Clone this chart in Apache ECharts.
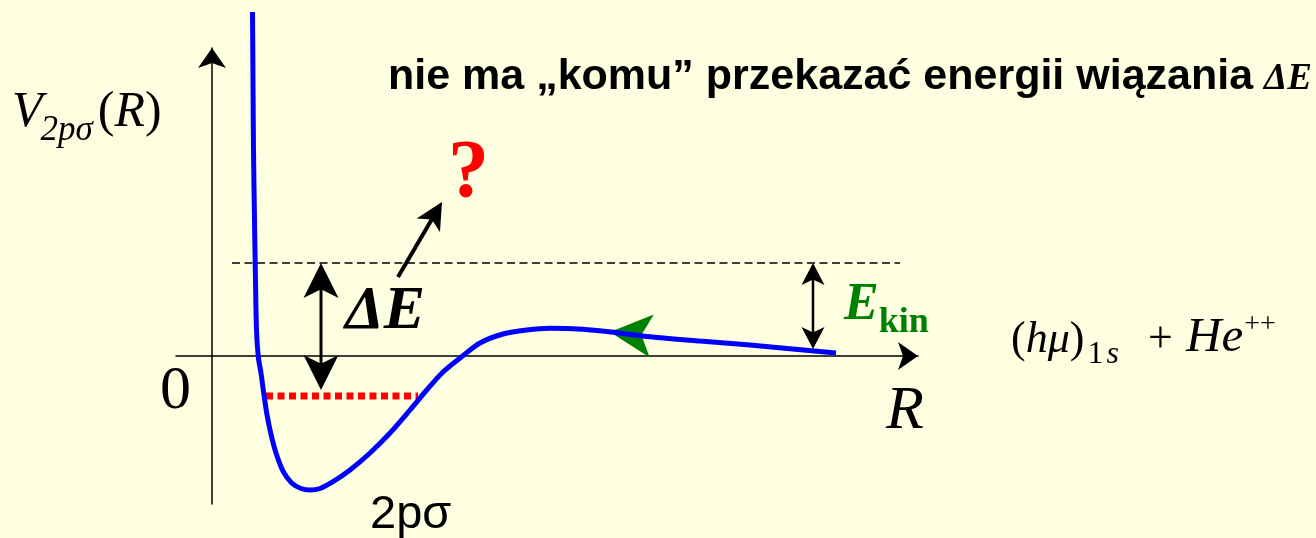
<!DOCTYPE html>
<html>
<head>
<meta charset="utf-8">
<script src="https://cdn.jsdelivr.net/npm/echarts@6/dist/echarts.min.js"></script>
<style>
  html, body { margin: 0; padding: 0; background: #FEFEE1; }
  #chart { width: 1316px; height: 538px; }
</style>
</head>
<body>
<div id="chart"></div>
<script>
// Axis extents (R horizontal, V vertical)
const rRange = [-0.36, 7.06];
const vRange = [-1.48, 3.08];

// 2pσ potential curve V(R)
const potentialCurve = [
  [0.405, 3.44], [0.41, 2.76], [0.415, 2.06], [0.425, 1.36], [0.435, 0.76],
  [0.445, 0.26], [0.463, -0.01], [0.49, -0.17], [0.513, -0.34], [0.547, -0.57],
  [0.587, -0.77], [0.64, -0.97], [0.713, -1.157], [0.797, -1.27], [0.89, -1.325],
  [0.98, -1.34], [1.08, -1.325], [1.21, -1.257], [1.38, -1.14], [1.58, -0.97],
  [1.78, -0.77], [1.98, -0.54], [2.147, -0.34], [2.313, -0.157], [2.497, -0.007],
  [2.68, 0.13], [2.91, 0.22], [3.147, 0.26], [3.38, 0.277], [3.71, 0.267],
  [4.047, 0.233], [4.38, 0.193], [4.88, 0.15], [5.38, 0.11], [6.24, 0.03]
];

// Energy levels
const thresholdLevel = [[0.20, 0.93], [6.88, 0.93]];
const boundLevel = [[0.54, -0.40], [2.06, -0.40]];

// Arrows: [from, to]
const deltaEArrow = [[1.09, 0.93], [1.09, -0.34]];
const ekinArrow = [[6.01, 0.93], [6.01, 0.07]];
const escapeArrow = [[1.86, 0.79], [2.30, 1.54]];
const motionArrow = [[4.40, 0.20], [3.98, 0.24]];
const rAxisTip = [[rRange[1] - 0.5, 0], [rRange[1], 0]];
const vAxisTip = [[0, vRange[1] - 0.5], [0, vRange[1]]];

// Arrow series drawn in data coordinates; heads are concave "stealth" tips
function arrowSeries(name, seg, opt) {
  return {
    type: 'custom',
    name: name,
    coordinateSystem: 'cartesian2d',
    silent: true,
    clip: false,
    z: opt.z || 6,
    data: [[seg[0][0], seg[0][1], seg[1][0], seg[1][1]]],
    renderItem: function (params, api) {
      const a = api.coord([api.value(0), api.value(1)]);
      const b = api.coord([api.value(2), api.value(3)]);
      const dx = b[0] - a[0], dy = b[1] - a[1];
      const len = Math.sqrt(dx * dx + dy * dy);
      const ux = dx / len, uy = dy / len;
      const nx = -uy, ny = ux;
      const W = opt.headW, L = opt.headL;
      function head(tip, dirx, diry) {
        const bx = tip[0] - dirx * L, by = tip[1] - diry * L;
        return {
          type: 'polygon',
          shape: { points: [
            tip,
            [bx + nx * W / 2, by + ny * W / 2],
            [tip[0] - dirx * L * 0.75, tip[1] - diry * L * 0.75],
            [bx - nx * W / 2, by - ny * W / 2]
          ] },
          style: { fill: opt.color }
        };
      }
      const children = [];
      if (opt.width > 0) {
        const s = opt.both ? [a[0] + ux * L * 0.7, a[1] + uy * L * 0.7] : a;
        const e = [b[0] - ux * L * 0.7, b[1] - uy * L * 0.7];
        children.push({
          type: 'line',
          shape: { x1: s[0], y1: s[1], x2: e[0], y2: e[1] },
          style: { stroke: opt.color, lineWidth: opt.width }
        });
      }
      children.push(head(b, ux, uy));
      if (opt.both) children.push(head(a, -ux, -uy));
      return { type: 'group', children: children };
    }
  };
}

// Text runs laid out piece by piece from a common baseline
const measureCtx = document.createElement('canvas').getContext('2d');
function textRun(x, baseline, pieces) {
  const out = [];
  let cx = x;
  pieces.forEach(function (p) {
    const font = (p.style || 'normal') + ' ' + (p.weight || 'normal') + ' ' + p.size + 'px ' + p.family;
    if (p.at != null) cx = p.at;
    cx += p.dx || 0;
    out.push({
      type: 'text',
      x: cx,
      y: baseline + (p.dy || 0) - 0.34 * p.size,
      silent: true,
      z: 20,
      style: {
        text: p.t, font: font, fill: p.color || '#000',
        align: 'left', verticalAlign: 'middle',
        textAlign: 'left', textVerticalAlign: 'middle'
      }
    });
    measureCtx.font = font;
    cx += measureCtx.measureText(p.t).width;
  });
  return out;
}

const SERIF = '"Liberation Serif", "DejaVu Serif", serif';
const SANS = '"Liberation Sans", Arial, sans-serif';
const GREEN = '#008000';

const texts = [].concat(
  textRun(388, 92, [
    { t: 'nie ma „komu” przekazać energii wiązania ', size: 43, weight: 'bold', family: SANS },
    { t: 'ΔE', size: 37, weight: 'bold', style: 'italic', family: SERIF, dx: -1 }
  ]),
  textRun(12, 130, [
    { t: 'V', size: 50, style: 'italic', family: SERIF },
    { t: '2pσ', size: 35, style: 'italic', family: SERIF, dy: 13, dx: -2 },
    { t: '(', size: 50, family: SERIF, dx: 5 },
    { t: 'R', size: 50, style: 'italic', family: SERIF },
    { t: ')', size: 50, family: SERIF }
  ]),
  textRun(448, 203, [
    { t: '?', size: 82, weight: 'bold', family: SERIF, color: '#FF0000' }
  ]),
  textRun(345, 333, [
    { t: 'ΔE', size: 62, weight: 'bold', style: 'italic', family: SERIF }
  ]),
  textRun(844, 323, [
    { t: 'E', size: 52, weight: 'bold', style: 'italic', family: SERIF, color: GREEN },
    { t: 'kin', size: 36, weight: 'bold', family: SERIF, color: GREEN, dy: 12 }
  ]),
  textRun(1011, 355, [
    { t: '(', size: 44, family: SERIF },
    { t: 'hμ', size: 44, style: 'italic', family: SERIF },
    { t: ')', size: 44, family: SERIF },
    { t: '1', size: 32, family: SERIF, dy: 10, dx: 3 },
    { t: 's', size: 32, style: 'italic', family: SERIF, dy: 10, dx: 3 },
    { t: '+', size: 44, family: SERIF, at: 1148 },
    { t: 'He', size: 49, style: 'italic', family: SERIF, at: 1186 },
    { t: '++', size: 28, family: SERIF, dy: -21, dx: 1 }
  ]),
  textRun(160, 413, [
    { t: '0', size: 62, family: SERIF }
  ]),
  textRun(886, 433, [
    { t: 'R', size: 62, style: 'italic', family: SERIF }
  ]),
  textRun(370, 531, [
    { t: '2pσ', size: 47, family: SANS }
  ])
);

function axisCommon(range) {
  return {
    type: 'value',
    min: range[0],
    max: range[1],
    axisLine: {
      show: true,
      onZero: true,
      lineStyle: { color: '#000', width: 1.5 }
    },
    axisTick: { show: false },
    axisLabel: { show: false },
    splitLine: { show: false }
  };
}

const chart = echarts.init(document.getElementById('chart'), null, { renderer: 'canvas' });
chart.setOption({
  backgroundColor: '#FEFEE1',
  animation: false,
  grid: { left: 176, width: 742, top: 48, height: 456 },
  xAxis: axisCommon(rRange),
  yAxis: axisCommon(vRange),
  series: [
    arrowSeries('R axis', rAxisTip, { color: '#000', width: 0, headW: 28, headL: 20, z: 1 }),
    arrowSeries('V axis', vAxisTip, { color: '#000', width: 0, headW: 28, headL: 20, z: 1 }),
    {
      type: 'line', name: 'threshold', data: thresholdLevel, symbol: 'none', silent: true, z: 3,
      lineStyle: { color: '#000', width: 1.5, type: [8, 4.5] }
    },
    {
      type: 'line', name: 'bound', data: boundLevel, symbol: 'none', silent: true, z: 3,
      lineStyle: { color: '#FF0000', width: 7, type: [7, 4.5], cap: 'butt' }
    },
    arrowSeries('motion', motionArrow, { color: GREEN, width: 0, headW: 43, headL: 42, z: 4 }),
    {
      type: 'line', name: '2pσ', data: potentialCurve, symbol: 'none', smooth: 0.3,
      clip: false, silent: true, z: 5,
      lineStyle: { color: '#0000FF', width: 5 }
    },
    arrowSeries('ΔE', deltaEArrow, { color: '#000', width: 3, headW: 35, headL: 35, both: true }),
    arrowSeries('Ekin', ekinArrow, { color: '#000', width: 2.5, headW: 23, headL: 22, both: true }),
    arrowSeries('escape', escapeArrow, { color: '#000', width: 4, headW: 27, headL: 27 })
  ],
  graphic: texts
});
</script>
</body>
</html>
